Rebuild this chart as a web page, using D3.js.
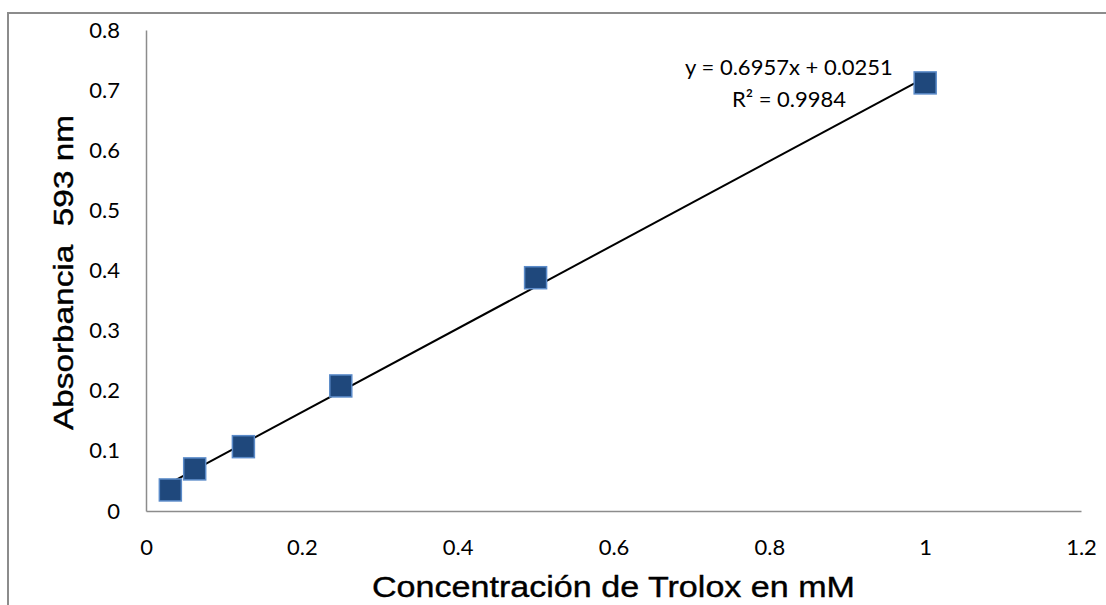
<!DOCTYPE html>
<html>
<head>
<meta charset="utf-8">
<script src="https://cdn.jsdelivr.net/npm/d3@7"></script>
<style>
  body { margin: 0; background: #fff; }
  svg { display: block; }
</style>
</head>
<body>
<svg id="chart" width="1106" height="605"></svg>
<script>
// calibration points
var conc = [0.03125, 0.0625, 0.125, 0.25, 0.5, 1];
var absorb = [0.035, 0.070, 0.107, 0.208, 0.388, 0.712];
var xTicks = [0, 0.2, 0.4, 0.6, 0.8, 1, 1.2];
var yTicks = [0, 0.1, 0.2, 0.3, 0.4, 0.5, 0.6, 0.7, 0.8];
var slope = 0.6957, intercept = 0.0251;
var eqText = "y = 0.6957x + 0.0251";
var r2Text = "R² = 0.9984";

var svg = d3.select("#chart");
var x = d3.scaleLinear().domain([0, 1.2]).range([146, 1081]);
var y = d3.scaleLinear().domain([0, 0.8]).range([511, 30]);

// outer chart border (only top and left visible)
svg.append("path").attr("d", "M8,605 L8,13 L1106,13")
  .attr("fill", "none").attr("stroke", "#8c8c8c").attr("stroke-width", 2);

var tickFont = "Lato, 'Open Sans', sans-serif";
var titleFont = "'Liberation Sans', Arial, sans-serif";

var xAxis = svg.append("g").attr("transform", "translate(0,511)")
  .call(d3.axisBottom(x).tickValues(xTicks).tickSize(0).tickPadding(28).tickFormat(d3.format("")));
var yAxis = svg.append("g").attr("transform", "translate(146,0)")
  .call(d3.axisLeft(y).tickValues(yTicks).tickSize(0).tickPadding(26).tickFormat(d3.format("")));
[xAxis, yAxis].forEach(function(a){
  a.select(".domain").attr("stroke", "#8c8c8c").attr("stroke-width", 1.5);
  a.selectAll("text").attr("font-family", tickFont).attr("font-size", 22).attr("fill", "#000");
});

// trend line
var tl = d3.line().x(function(d){ return x(d); }).y(function(d){ return y(slope*d + intercept); });
svg.append("path").datum([d3.min(conc), d3.max(conc)]).attr("d", tl)
  .attr("fill", "none").attr("stroke", "#000").attr("stroke-width", 2);

// markers
svg.selectAll("rect.pt").data(conc).enter().append("rect").attr("class", "pt")
  .attr("x", function(d){ return x(d) - 11; })
  .attr("y", function(d, i){ return y(absorb[i]) - 11; })
  .attr("width", 22).attr("height", 22)
  .attr("fill", "#1f487c").attr("stroke", "#5b8bc9").attr("stroke-width", 1.5);

svg.append("text").attr("x", 789).attr("y", 75).attr("text-anchor", "middle")
  .attr("font-family", tickFont).attr("font-size", 22).text(eqText);
svg.append("text").attr("x", 789).attr("y", 107).attr("text-anchor", "middle")
  .attr("font-family", tickFont).attr("font-size", 22).text(r2Text);

// axis titles
svg.append("text").attr("x", 372).attr("y", 597)
  .attr("font-family", titleFont).attr("font-size", 30)
  .attr("textLength", 483).attr("lengthAdjust", "spacingAndGlyphs")
  .attr("stroke", "#000").attr("stroke-width", 0.4)
  .text("Concentración de Trolox en mM");
svg.append("text").attr("transform", "translate(73,430) rotate(-90)")
  .attr("font-family", titleFont).attr("font-size", 27)
  .attr("textLength", 315).attr("lengthAdjust", "spacingAndGlyphs")
  .attr("stroke", "#000").attr("stroke-width", 0.4)
  .style("white-space", "pre").text("Absorbancia  593 nm");
</script>
</body>
</html>
